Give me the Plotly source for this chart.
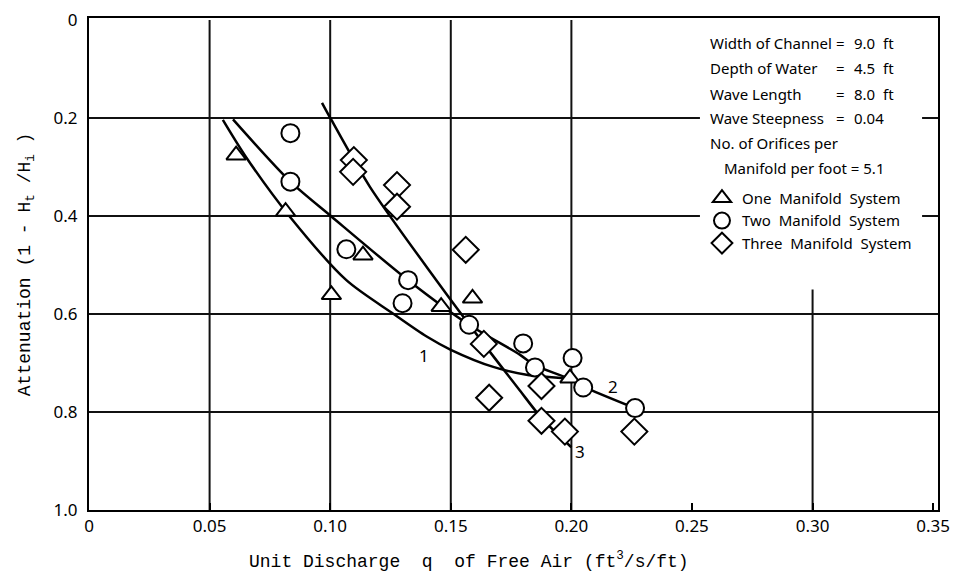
import plotly.graph_objects as go

# measured points: one / two / three manifold systems
q_one = [0.061, 0.0815, 0.1005, 0.1136, 0.146, 0.159, 0.1994]
att_one = [0.276, 0.391, 0.561, 0.480, 0.585, 0.568, 0.731]

q_two = [0.0835, 0.0835, 0.1067, 0.130, 0.1323, 0.1576, 0.180, 0.1849, 0.2005, 0.2049, 0.2264]
att_two = [0.231, 0.330, 0.468, 0.578, 0.531, 0.622, 0.660, 0.709, 0.690, 0.750, 0.792]

q_three = [0.1098, 0.1095, 0.1277, 0.1277, 0.1562, 0.1637, 0.1659, 0.1876, 0.1876, 0.1973, 0.2261]
att_three = [0.286, 0.310, 0.337, 0.381, 0.469, 0.661, 0.771, 0.747, 0.818, 0.840, 0.840]

# hand-fitted curves
curve1_q = [0.0555, 0.065, 0.0832, 0.1067, 0.126, 0.140, 0.150, 0.1676, 0.1814, 0.1973]
curve1_att = [0.204, 0.279, 0.401, 0.531, 0.599, 0.646, 0.673, 0.708, 0.724, 0.731]

curve2_q = [0.0597, 0.0835, 0.1005, 0.1323, 0.1576, 0.1786, 0.1849, 0.198, 0.2049, 0.2264]
curve2_att = [0.203, 0.330, 0.401, 0.531, 0.622, 0.683, 0.705, 0.730, 0.748, 0.792]

curve3_q = [0.0966, 0.1005, 0.1164, 0.144, 0.1637, 0.178, 0.1876, 0.200]
curve3_att = [0.169, 0.204, 0.340, 0.531, 0.661, 0.752, 0.812, 0.872]

curve_labels = ["1", "2", "3"]
curve_label_q = [0.139, 0.2174, 0.2035]
curve_label_att = [0.684, 0.748, 0.881]

x_ticks = [0, 0.05, 0.10, 0.15, 0.20, 0.25, 0.30, 0.35]
x_ticktext = ["0", "0.05", "0.10", "0.15", "0.20", "0.25", "0.30", "0.35"]
y_ticks = [0, 0.2, 0.4, 0.6, 0.8, 1.0]
y_ticktext = ["0", "0.2", "0.4", "0.6", "0.8", "1.0"]
x_grid = [0.05, 0.10, 0.15, 0.20, 0.30]
y_grid = [0.2, 0.4, 0.6, 0.8]

info_labels = ["Width of Channel", "Depth of Water", "Wave Length", "Wave Steepness"]
info_values = ["9.0  ft", "4.5  ft", "8.0  ft", "0.04"]

sans = "Noto Sans"
mono = "Liberation Mono"
black = "black"

fig = go.Figure()

for cq, ca in [(curve1_q, curve1_att), (curve2_q, curve2_att), (curve3_q, curve3_att)]:
    fig.add_trace(go.Scatter(x=cq, y=ca, mode="lines", showlegend=False,
                             line=dict(color=black, width=2.5, shape="spline", smoothing=0.8)))

fig.add_trace(go.Scatter(x=q_one, y=att_one, mode="markers", name="One  Manifold  System",
                         marker=dict(symbol="triangle-up", size=17, color="white",
                                     line=dict(color=black, width=2))))
fig.add_trace(go.Scatter(x=q_two, y=att_two, mode="markers", name="Two  Manifold  System",
                         marker=dict(symbol="circle", size=18, color="white",
                                     line=dict(color=black, width=2))))
fig.add_trace(go.Scatter(x=q_three, y=att_three, mode="markers", name="Three  Manifold  System",
                         marker=dict(symbol="diamond", size=20, color="white",
                                     line=dict(color=black, width=2))))

shapes = []
for gx in x_grid:
    shapes.append(dict(type="line", xref="x", yref="y", x0=gx, x1=gx, y0=0, y1=1.0,
                       line=dict(color="#111", width=2), layer="below"))
for gy in y_grid:
    shapes.append(dict(type="line", xref="x", yref="y", x0=0, x1=0.36, y0=gy, y1=gy,
                       line=dict(color="#111", width=2), layer="below"))
# blank box behind the info text
shapes.append(dict(type="rect", xref="x", yref="y", x0=0.2533, x1=0.3454, y0=-0.01, y1=0.55,
                   fillcolor="white", line=dict(width=0), layer="below"))

annotations = []
for t, lq, la in zip(curve_labels, curve_label_q, curve_label_att):
    annotations.append(dict(x=lq, y=la, text=t, showarrow=False,
                            font=dict(family=sans, size=17, color=black)))

info_y = [0.047, 0.098, 0.151, 0.200]
for lab, val, yy in zip(info_labels, info_values, info_y):
    annotations.append(dict(x=0.2566, y=yy, text=lab, showarrow=False, xanchor="left",
                            font=dict(family=sans, size=15, color=black)))
    annotations.append(dict(x=0.3115, y=yy, text="=", showarrow=False,
                            font=dict(family=sans, size=15, color=black)))
    annotations.append(dict(x=0.3165, y=yy, text=val, showarrow=False, xanchor="left",
                            font=dict(family=sans, size=15, color=black)))
annotations.append(dict(x=0.2566, y=0.251, text="No. of Orifices per", showarrow=False,
                        xanchor="left", font=dict(family=sans, size=15, color=black)))
annotations.append(dict(x=0.2625, y=0.302, text="Manifold per foot = 5.1", showarrow=False,
                        xanchor="left", font=dict(family=sans, size=15, color=black)))

# axis titles
annotations.append(dict(xref="paper", yref="paper", x=0.448, y=-0.102, yanchor="middle",
                        text="Unit Discharge  q  of Free Air (ft<sup>3</sup>/s/ft)",
                        showarrow=False, font=dict(family=mono, size=18, color=black)))
annotations.append(dict(xref="paper", yref="paper", x=-0.074, y=0.5, textangle=-90,
                        xanchor="center", yanchor="middle",
                        text="Attenuation (1 - H<sub>t</sub> /H<sub>i</sub> )",
                        showarrow=False, font=dict(family=mono, size=18, color=black)))

fig.update_layout(
    width=961, height=575,
    margin=dict(l=81, r=31, t=10, b=73),
    paper_bgcolor="white", plot_bgcolor="white",
    shapes=shapes, annotations=annotations,
    legend=dict(x=0.722, y=0.667, xanchor="left", yanchor="top",
                bgcolor="rgba(0,0,0,0)", font=dict(family=sans, size=15, color=black),
                tracegroupgap=0),
)
fig.update_xaxes(range=[0, 0.352], tickvals=x_ticks, ticktext=x_ticktext, automargin=False,
                 showgrid=False, zeroline=False, showline=True, mirror=True,
                 linecolor=black, linewidth=2, ticks="inside", ticklen=7,
                 tickcolor=black, tickwidth=2, ticklabeloverflow="allow",
                 tickfont=dict(family=sans, size=17, color=black))
fig.update_yaxes(range=[1.0, -0.004], tickvals=y_ticks, ticktext=y_ticktext, automargin=False,
                 showgrid=False, zeroline=False, showline=True, mirror=True,
                 linecolor=black, linewidth=2, ticks="", ticklabelstandoff=6,
                 ticklabeloverflow="allow",
                 tickfont=dict(family=sans, size=17, color=black))

fig.write_html("out.html")
